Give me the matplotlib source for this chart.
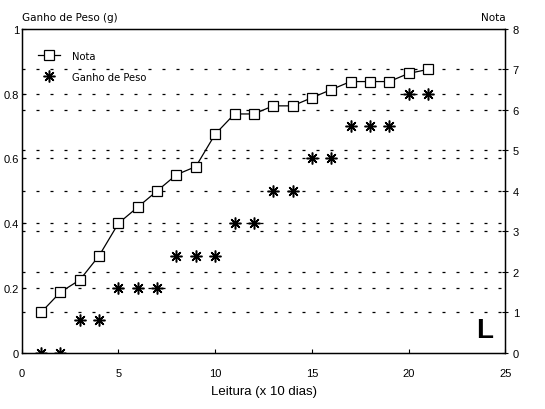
import matplotlib.pyplot as plt

leitura = list(range(1, 22))
nota = [1.0, 1.5, 1.8, 2.4, 3.2, 3.6, 4.0, 4.4, 4.6, 5.4, 5.9, 5.9, 6.1, 6.1,
        6.3, 6.5, 6.7, 6.7, 6.7, 6.9, 7.0]
ganho = [0, 0, 0.1, 0.1, 0.2, 0.2, 0.2, 0.3, 0.3, 0.3, 0.4, 0.4, 0.5, 0.5,
         0.6, 0.6, 0.7, 0.7, 0.7, 0.8, 0.8]

left_ticks = [0, 0.2, 0.4, 0.6, 0.8, 1]
left_labels = ['0', '0.2', '0.4', '0.6', '0.8', '1']
right_ticks = [0, 1, 2, 3, 4, 5, 6, 7, 8]
x_ticks = [0, 5, 10, 15, 20, 25]

plt.rcParams['font.family'] = ['Liberation Sans', 'DejaVu Sans']

fig = plt.figure(figsize=(5.45, 4.10), dpi=100)
ax = fig.add_axes([0.040, 0.137, 0.887, 0.790])
ax2 = ax.twinx()

grid_style = dict(color='black', linewidth=0.9, linestyle=(0, (2.4, 8.8)))
for t in left_ticks[1:-1]:
    ax.axhline(t, **grid_style, zorder=0)
for t in right_ticks[1:-1]:
    ax2.axhline(t, **grid_style, zorder=0)

ax.set_xlim(0, 25)
ax.set_ylim(0, 1)
ax2.set_ylim(0, 8)

ax.plot(leitura, ganho, linestyle='none', marker=(8, 2, 0), markersize=8.5,
        color='black', markeredgewidth=1.1, label='Ganho de Peso', zorder=3)
ax2.plot(leitura, nota, color='black', linewidth=0.9, marker='s', markersize=6.5,
         markerfacecolor='white', markeredgecolor='black', markeredgewidth=0.9,
         label='Nota', zorder=3)

ax.set_xticks(x_ticks)
ax.set_yticks(left_ticks)
ax.set_yticklabels(left_labels)
ax2.set_yticks(right_ticks)
ax.tick_params(axis='both', direction='in', labelsize=8, length=3, width=0.8)
ax.tick_params(axis='x', pad=11)
ax.tick_params(axis='y', pad=2)
ax2.tick_params(axis='y', direction='inout', labelsize=8, length=5, width=0.8, pad=3)

for sp in ax.spines.values():
    sp.set_linewidth(1.0)

ax.set_xlabel('Leitura (x 10 dias)', fontsize=9.5, labelpad=5)
fig.text(0.040, 0.945, 'Ganho de Peso (g)', fontsize=7.5, ha='left', va='bottom',
         family=['DejaVu Sans'])
fig.text(0.927, 0.945, 'Nota', fontsize=7.5, ha='right', va='bottom',
         family=['DejaVu Sans'])

h1, l1 = ax2.get_legend_handles_labels()
h2, l2 = ax.get_legend_handles_labels()
leg = ax.legend(h1 + h2, l1 + l2, loc='upper left', bbox_to_anchor=(0.015, 0.96),
                frameon=False, handlelength=2.2, handletextpad=1.2, labelspacing=1.1,
                prop={'family': 'DejaVu Sans', 'size': 7.2})
leg.set_zorder(5)

ax.text(0.975, 0.03, 'L', transform=ax.transAxes, fontsize=20, fontweight='bold',
        ha='right', va='bottom')

fig.savefig('out.png', dpi=100)
